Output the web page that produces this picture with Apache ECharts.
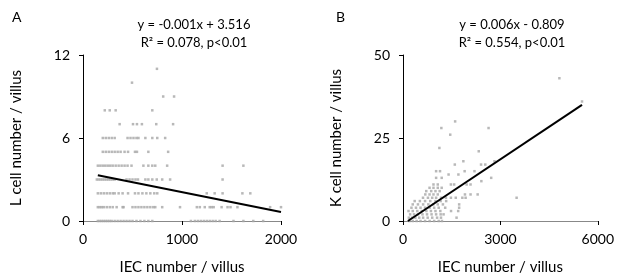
<!DOCTYPE html>
<html>
<head>
<meta charset="utf-8">
<script src="https://cdn.jsdelivr.net/npm/echarts@6/dist/echarts.min.js"></script>
<style>
  html, body { margin: 0; padding: 0; background: #fff; }
  #chart { width: 617px; height: 280px; }
</style>
</head>
<body>
<div id="chart"></div>
<script>
// panel A: L cell number per villus, grouped by count (row) -> IEC numbers
const lCellRows = {
  0: [150, 170, 190, 210, 230, 250, 270, 290, 320, 350, 380, 410, 440, 470, 500, 540, 580, 620, 660, 700,
      1090, 1130, 1160, 1190, 1220, 1250, 1280, 1310, 1340, 1380, 1520, 1620, 1720, 1820],
  1: [150, 170, 190, 210, 240, 270, 300, 340, 400, 410, 500, 530, 560, 590, 620, 650, 680, 710, 730, 800, 980,
      1150, 1180, 1230, 1280, 1300, 1320, 1400, 1460, 1490, 1560, 1890, 2000],
  2: [150, 180, 210, 240, 270, 300, 320, 360, 400, 455, 525, 560, 600, 640, 680, 720, 750, 1250, 1330, 1410, 1610, 1690],
  3: [140, 160, 180, 200, 220, 240, 260, 280, 300, 320, 440, 470, 500, 530, 555, 630, 660, 700, 745, 800, 880, 1410],
  4: [150, 175, 200, 225, 250, 275, 300, 330, 360, 390, 420, 450, 490, 610, 660, 700, 730, 850, 1410, 1620],
  5: [200, 230, 260, 290, 320, 350, 380, 420, 455, 525, 545, 660, 860],
  6: [200, 230, 260, 290, 320, 450, 480, 510, 540, 560, 630, 700, 750, 830],
  7: [370, 505, 545, 595, 740, 910],
  8: [220, 270, 330, 700],
  9: [810, 920],
  10: [495],
  11: [747]
};
const lTrend = [[150, 3.3], [2000, 0.65]];

// panel B: K cell number per villus
const kCellRows = {
  0: [200, 300, 420, 540, 680, 820, 960, 1100, 1200],
  1: [180, 280, 380, 500, 620, 760, 900, 1050, 1170, 1650],
  2: [220, 340, 460, 600, 740, 880, 1020, 1160, 1250],
  3: [170, 300, 440, 580, 720, 860, 1000, 1150, 1480, 1700],
  4: [260, 400, 540, 680, 820, 960, 1100, 1300, 1730],
  5: [300, 460, 620, 780, 930, 1070, 1230, 1730],
  6: [360, 520, 680, 840, 1000, 1160, 1330],
  7: [616, 768, 899, 1020, 1172, 1323, 1475, 1626, 1828, 1929, 3500],
  8: [687, 818, 939, 1071, 1909, 2081, 2300],
  9: [717, 869, 1000, 1130],
  10: [818, 939, 1071, 1192],
  11: [939, 1071, 1475, 1576, 1960, 2081],
  12: [2414],
  13: [1020, 1192, 2717],
  14: [1404, 1707],
  15: [1020, 1141, 1899, 2202],
  17: [1596, 2404, 2535],
  18: [1859, 2818],
  21: [2333],
  22: [1121],
  26: [1455],
  28: [1182, 2636],
  30: [1606],
  36: [5515],
  43: [4818]
};
const kTrend = [[150, 0], [5515, 35]];

const xTicksA = [0, 2000, 1000];
const yTicksA = [0, 12, 6];
const xTicksB = [0, 6000, 3000];
const yTicksB = [0, 50, 25];

function toPoints(rows) {
  const pts = [];
  Object.keys(rows).forEach((k) => {
    rows[k].forEach((x) => pts.push([x, Number(k)]));
  });
  return pts;
}

const font = "Lato, 'Open Sans', sans-serif";

function xAxisOf(idx, ticks) {
  return {
    gridIndex: idx,
    type: "value",
    min: ticks[0],
    max: ticks[1],
    interval: ticks[2],
    name: "IEC number / villus",
    nameLocation: "middle",
    nameGap: 39,
    nameTextStyle: { color: "#000", fontSize: 15, fontFamily: font },
    axisLine: { show: true, onZero: false, lineStyle: { color: "#888", width: 1 } },
    axisTick: { show: true, inside: false, length: 4, lineStyle: { color: "#000" } },
    axisLabel: { color: "#000", fontSize: 14, fontFamily: font, margin: 11, formatter: (v) => String(v) },
    splitLine: { show: false }
  };
}

function yAxisOf(idx, ticks, name) {
  return {
    gridIndex: idx,
    type: "value",
    min: ticks[0],
    max: ticks[1],
    interval: ticks[2],
    name: name,
    nameLocation: "middle",
    nameRotate: 90,
    nameGap: 59,
    nameTextStyle: { color: "#000", fontSize: 15, fontFamily: font },
    axisLine: { show: true, lineStyle: { color: "#000", width: 1 } },
    axisTick: { show: true, inside: false, length: 4, lineStyle: { color: "#000" } },
    axisLabel: { color: "#000", fontSize: 14, fontFamily: font, margin: 13, formatter: (v) => String(v) },
    splitLine: { show: false }
  };
}

const chart = echarts.init(document.getElementById("chart"));
chart.setOption({
  animation: false,
  backgroundColor: "#fff",
  grid: [
    { left: 83, top: 55, width: 198, height: 166 },
    { left: 403, top: 55, width: 198, height: 166 }
  ],
  xAxis: [xAxisOf(0, xTicksA), xAxisOf(1, xTicksB)],
  yAxis: [
    yAxisOf(0, yTicksA, "L cell number / villus"),
    yAxisOf(1, yTicksB, "K cell number / villus")
  ],
  graphic: [
    { type: "text", left: 12, top: 10, style: { text: "A", fontSize: 14, fontFamily: font, fill: "#000" } },
    { type: "text", left: 336, top: 10, style: { text: "B", fontSize: 14, fontFamily: font, fill: "#000" } },
    { type: "text", x: 194, y: 25, style: { text: "y = -0.001x + 3.516", fontSize: 13, fontFamily: font, fill: "#000", align: "center", verticalAlign: "middle" } },
    { type: "text", x: 194, y: 43, style: { text: "R² = 0.078, p<0.01", fontSize: 13, fontFamily: font, fill: "#000", align: "center", verticalAlign: "middle" } },
    { type: "text", x: 512, y: 25, style: { text: "y = 0.006x - 0.809", fontSize: 13, fontFamily: font, fill: "#000", align: "center", verticalAlign: "middle" } },
    { type: "text", x: 512, y: 43, style: { text: "R² = 0.554, p<0.01", fontSize: 13, fontFamily: font, fill: "#000", align: "center", verticalAlign: "middle" } }
  ],
  series: [
    {
      type: "scatter",
      xAxisIndex: 0,
      yAxisIndex: 0,
      data: toPoints(lCellRows),
      symbol: "rect",
      symbolSize: 2.5,
      itemStyle: { color: "#a6a6a6" },
      silent: true
    },
    {
      type: "line",
      xAxisIndex: 0,
      yAxisIndex: 0,
      data: lTrend,
      symbol: "none",
      lineStyle: { color: "#000", width: 2 },
      silent: true
    },
    {
      type: "scatter",
      xAxisIndex: 1,
      yAxisIndex: 1,
      data: toPoints(kCellRows),
      symbol: "rect",
      symbolSize: 2.5,
      itemStyle: { color: "#a6a6a6" },
      silent: true
    },
    {
      type: "line",
      xAxisIndex: 1,
      yAxisIndex: 1,
      data: kTrend,
      symbol: "none",
      lineStyle: { color: "#000", width: 2 },
      silent: true
    }
  ]
});
</script>
</body>
</html>
